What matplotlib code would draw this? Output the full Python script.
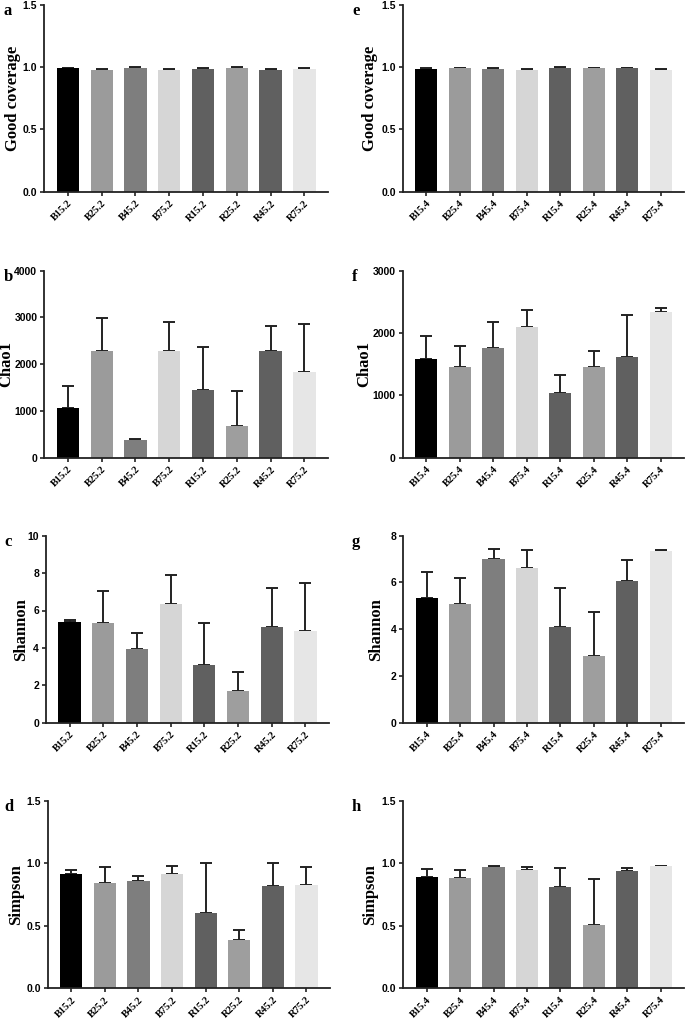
import matplotlib
matplotlib.use("Agg")
import matplotlib.pyplot as plt
import numpy as np

groups_left = ["B15.2", "B25.2", "B45.2", "B75.2", "R15.2", "R25.2", "R45.2", "R75.2"]
groups_right = ["B15.4", "B25.4", "B45.4", "B75.4", "R15.4", "R25.4", "R45.4", "R75.4"]
bar_colors = ["#000000", "#9b9b9b", "#7e7e7e", "#d6d6d6", "#606060", "#9e9e9e", "#606060", "#e6e6e6"]

# means and upper error bar tops
good_2 = [0.989, 0.979, 0.995, 0.979, 0.987, 0.995, 0.979, 0.987]
good_2_top = [0.995, 0.985, 1.000, 0.984, 0.994, 1.001, 0.984, 0.993]
good_4 = [0.987, 0.989, 0.984, 0.979, 0.995, 0.989, 0.989, 0.979]
good_4_top = [0.992, 0.993, 0.989, 0.983, 0.998, 0.993, 0.993, 0.982]

chao_2 = [1070, 2282, 371, 2282, 1447, 670, 2275, 1832]
chao_2_top = [1526, 2995, 406, 2909, 2374, 1426, 2824, 2852]
chao_4 = [1578, 1449, 1759, 2096, 1037, 1455, 1610, 2337]
chao_4_top = [1957, 1797, 2182, 2364, 1326, 1706, 2283, 2406]

shannon_2 = [5.38, 5.31, 3.92, 6.33, 3.07, 1.68, 5.10, 4.88]
shannon_2_top = [5.49, 7.04, 4.81, 7.88, 5.33, 2.71, 7.20, 7.47]
shannon_4 = [5.35, 5.06, 7.00, 6.60, 4.09, 2.85, 6.08, 7.35]
shannon_4_top = [6.45, 6.21, 7.43, 7.39, 5.78, 4.72, 6.98, 7.40]

simpson_2 = [0.913, 0.843, 0.857, 0.915, 0.606, 0.390, 0.817, 0.827]
simpson_2_top = [0.945, 0.974, 0.902, 0.982, 1.006, 0.470, 1.001, 0.974]
simpson_4 = [0.891, 0.886, 0.969, 0.945, 0.814, 0.504, 0.937, 0.977]
simpson_4_top = [0.955, 0.947, 0.977, 0.971, 0.966, 0.875, 0.961, 0.982]

W, H = 685, 1019
fig = plt.figure(figsize=(W / 100, H / 100), dpi=100)

rows = [
    ("Good coverage", (0, 1.5), [0, 0.5, 1.0, 1.5], (0, 1.5), [0, 0.5, 1.0, 1.5], "{:.1f}"),
    ("Chao1", (0, 4000), [0, 1000, 2000, 3000, 4000], (0, 3000), [0, 1000, 2000, 3000], "{:.0f}"),
    ("Shannon", (0, 10), [0, 2, 4, 6, 8, 10], (0, 8), [0, 2, 4, 6, 8], "{:.0f}"),
    ("Simpson", (0, 1.5), [0, 0.5, 1.0, 1.5], (0, 1.5), [0, 0.5, 1.0, 1.5], "{:.1f}"),
]
data_left = [(good_2, good_2_top), (chao_2, chao_2_top), (shannon_2, shannon_2_top), (simpson_2, simpson_2_top)]
data_right = [(good_4, good_4_top), (chao_4, chao_4_top), (shannon_4, shannon_4_top), (simpson_4, simpson_4_top)]
letters_left = ["a", "b", "c", "d"]
letters_right = ["e", "f", "g", "h"]

# pixel top / bottom of each row of axes
row_px = [(4.7, 191.7), (270.7, 457.7), (535.7, 722.7), (801, 988.3)]
left_px = [(44.3, 328), (44.3, 328), (46, 329), (47.7, 330)]
right_px = [(402.7, 684), (402.7, 684), (403.3, 684), (403.3, 684)]
# x pixel of the right edge of each y label
ylab_left = [21, 14, 29, 24]
ylab_right = [378, 372, 384, 378]


def draw(ax, labels, vals, tops, ylim, yticks, fmt, ylabel):
    x = np.arange(len(labels))
    vals = np.array(vals)
    err = np.array(tops) - vals
    ax.bar(x, vals, width=0.66, color=bar_colors, zorder=2)
    ax.errorbar(x, vals, yerr=[np.zeros_like(err), err], fmt="none",
                ecolor="#222222", elinewidth=1.4, capsize=4, capthick=1.4, zorder=1)
    ax.set_xlim(-0.7, 7.7)
    ax.set_ylim(*ylim)
    ax.set_yticks(yticks)
    ax.set_yticklabels([fmt.format(t) for t in yticks],
                       fontfamily="Liberation Sans", fontweight="bold", fontsize=7.5)
    ax.set_xticks(x)
    ax.set_xticklabels(labels, rotation=45, ha="right", rotation_mode="anchor",
                       fontfamily="Liberation Serif", fontweight="bold", fontsize=7.5)
    ax.set_ylabel(ylabel, fontfamily="Liberation Serif", fontweight="bold", fontsize=12)
    for s in ["top", "right"]:
        ax.spines[s].set_visible(False)
    for s in ["left", "bottom"]:
        ax.spines[s].set_linewidth(1.3)
        ax.spines[s].set_color("#222222")
    ax.tick_params(axis="both", length=3, width=1.2, color="#222222", pad=2)


for i, (ylabel, ylimL, ytL, ylimR, ytR, fmt) in enumerate(rows):
    top, bot = row_px[i]
    b = 1 - bot / H
    h = (bot - top) / H
    l0, l1 = left_px[i]
    axL = fig.add_axes([l0 / W, b, (l1 - l0) / W, h])
    draw(axL, groups_left, data_left[i][0], data_left[i][1], ylimL, ytL, fmt, ylabel)
    axL.yaxis.set_label_coords((ylab_left[i] - l0) / (l1 - l0), 0.5)
    r0, r1 = right_px[i]
    axR = fig.add_axes([r0 / W, b, (r1 - r0) / W, h])
    draw(axR, groups_right, data_right[i][0], data_right[i][1], ylimR, ytR, fmt, ylabel)
    axR.yaxis.set_label_coords((ylab_right[i] - r0) / (r1 - r0), 0.5)
    fig.text(4 / W, 1 - (top - 2) / H, letters_left[i], fontfamily="Liberation Serif",
             fontweight="bold", fontsize=12, va="top", ha="left")
    fig.text(352 / W, 1 - (top - 2) / H, letters_right[i], fontfamily="Liberation Serif",
             fontweight="bold", fontsize=12, va="top", ha="left")

fig.savefig("out.png", dpi=100)
